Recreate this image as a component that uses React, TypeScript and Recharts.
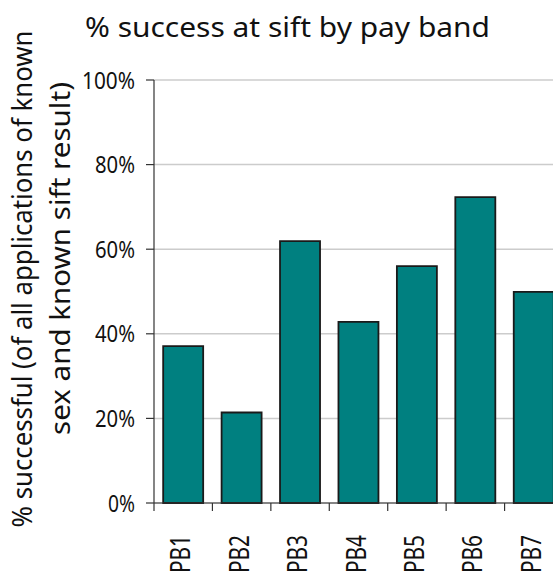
import React from 'react';
import { BarChart, Bar, XAxis, YAxis, CartesianGrid } from 'recharts';

const categories = ['PB1', 'PB2', 'PB3', 'PB4', 'PB5', 'PB6', 'PB7'];
const successRates = [37.1, 21.4, 61.9, 42.8, 56.0, 72.3, 49.9];
const yTicks = [0, 20, 40, 60, 80, 100];
const chartTitle = '% success at sift by pay band';
const yLabelLines = ['% successful (of all applications of known', 'sex and known sift result)'];

const data = categories.map((band, i) => ({ band, rate: successRates[i] }));

const FONT = '"Noto Sans", "DejaVu Sans", sans-serif';
const TEXT = '#111';
const AXIS = '#333';

function XTick(props: any) {
  const { x, y, payload } = props;
  const half = payload && payload.offset != null ? payload.offset : 0;
  const left = x - half;
  const bx = x + 7;
  const by = y + 32;
  return (
    <g>
      <line x1={left} x2={left} y1={y} y2={y + 8} stroke={AXIS} strokeWidth={1.2} />
      <text
        x={bx}
        y={by}
        transform={`rotate(-90 ${bx} ${by})`}
        textAnchor="end"
        fontSize={28}
        fontFamily={FONT}
        fill={TEXT}
        textLength={38}
        lengthAdjust="spacingAndGlyphs"
      >
        {String(payload.value)}
      </text>
    </g>
  );
}

function YTick(props: any) {
  const { x, y, payload } = props;
  const digits = String(payload.value).length;
  return (
    <text
      x={x}
      y={y}
      dy="0.36em"
      textAnchor="end"
      fontSize={24}
      fontFamily={FONT}
      fill={TEXT}
      textLength={13 * digits + 14}
      lengthAdjust="spacingAndGlyphs"
    >
      {`${payload.value}%`}
    </text>
  );
}

function YLabel() {
  return (
    <g>
      <text
        x={32}
        y={279}
        transform="rotate(-90 32 279)"
        textAnchor="middle"
        fontSize={27}
        fontFamily={FONT}
        fill={TEXT}
        textLength={497}
        lengthAdjust="spacingAndGlyphs"
      >
        {yLabelLines[0]}
      </text>
      <text
        x={70}
        y={258.5}
        transform="rotate(-90 70 258.5)"
        textAnchor="middle"
        fontSize={27}
        fontFamily={FONT}
        fill={TEXT}
        textLength={353}
        lengthAdjust="spacingAndGlyphs"
      >
        {yLabelLines[1]}
      </text>
    </g>
  );
}

export default function App() {
  return (
    <div
      style={{
        position: 'fixed',
        left: 0,
        top: 0,
        width: 553,
        height: 573,
        overflow: 'hidden',
        background: '#fff',
      }}
    >
      <svg
        width={553}
        height={60}
        style={{ position: 'absolute', left: 0, top: 0, pointerEvents: 'none' }}
      >
        <text
          x={85}
          y={37}
          fontSize={28}
          fontFamily={FONT}
          fill={TEXT}
          textLength={405}
          lengthAdjust="spacingAndGlyphs"
        >
          {chartTitle}
        </text>
      </svg>
      <BarChart
        width={563}
        height={573}
        data={data}
        margin={{ top: 80, right: 0, bottom: 0, left: 0 }}
        barCategoryGap="15.7%"
        style={{ position: 'absolute', left: 0, top: 0 }}
      >
        <CartesianGrid vertical={false} stroke="#cccccc" strokeWidth={1.5} />
        <XAxis
          dataKey="band"
          height={70}
          interval={0}
          tickSize={0}
          tickMargin={0}
          tickLine={false}
          axisLine={{ stroke: AXIS, strokeWidth: 1.2 }}
          tick={<XTick />}
        />
        <YAxis
          width={154}
          domain={[0, 100]}
          ticks={yTicks}
          interval={0}
          tickSize={8}
          tickMargin={11}
          tickLine={{ stroke: AXIS, strokeWidth: 1.2 }}
          axisLine={{ stroke: AXIS, strokeWidth: 1.2 }}
          tick={<YTick />}
          label={<YLabel />}
        />
        <Bar
          dataKey="rate"
          fill="#008080"
          stroke="#1a1a1a"
          strokeWidth={1.8}
          isAnimationActive={false}
        />
      </BarChart>
    </div>
  );
}
